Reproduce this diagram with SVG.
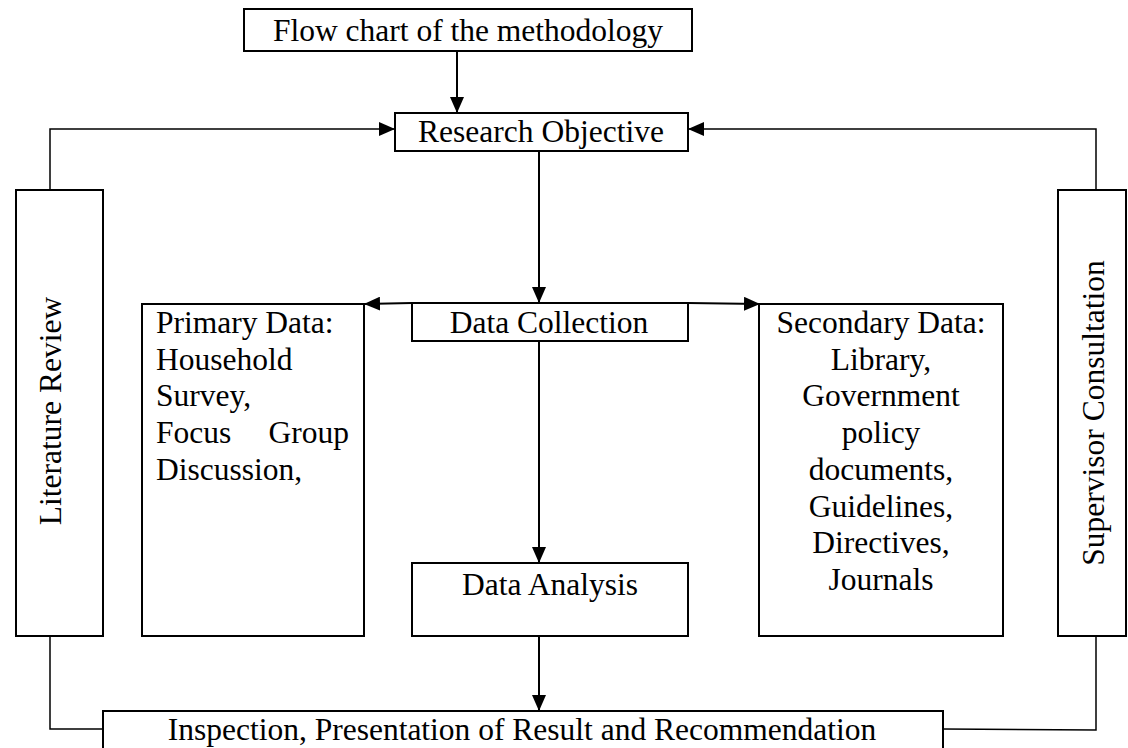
<svg xmlns="http://www.w3.org/2000/svg" width="1128" height="748" viewBox="0 0 1128 748">
<style>
.box{fill:#fff;stroke:#000;stroke-width:2}
.t{font-family:"Liberation Serif","Times New Roman",serif;font-size:31.5px;fill:#000}
.c{text-anchor:middle}
.ln{fill:none;stroke:#000;stroke-width:2}
.thin{fill:none;stroke:#000;stroke-width:1.5}
</style>
<defs>
<marker id="ah" markerUnits="userSpaceOnUse" markerWidth="16" markerHeight="14" viewBox="0 0 16 14" refX="16" refY="7" orient="auto">
<path d="M0,0 L16,7 L0,14 Z" fill="#000"/>
</marker>
</defs>
<rect width="1128" height="748" fill="#fff"/>
<g id="connectors">
<line class="ln" x1="457" y1="51" x2="457" y2="113" marker-end="url(#ah)"/>
<polyline class="thin" points="50,190 50,129 395,129" marker-end="url(#ah)"/>
<polyline class="thin" points="1096,190 1096,129 688,129" marker-end="url(#ah)"/>
<line class="ln" x1="539" y1="151" x2="539" y2="303" marker-end="url(#ah)"/>
<line class="ln" x1="412" y1="303" x2="364" y2="304" marker-end="url(#ah)"/>
<line class="ln" x1="688" y1="303" x2="760" y2="304" marker-end="url(#ah)"/>
<line class="ln" x1="539" y1="341" x2="539" y2="563" marker-end="url(#ah)"/>
<line class="ln" x1="539" y1="636" x2="539" y2="711" marker-end="url(#ah)"/>
<polyline class="thin" points="50,636 50,729 103,729"/>
<polyline class="thin" points="1096,636 1096,730 943,729"/>
</g>
<g id="flow-chart">
<rect class="box" x="244" y="9" width="448" height="42"/>
<text class="t c" x="468" y="41">Flow chart of the methodology</text>
</g>
<g id="research-objective">
<rect class="box" x="395" y="113" width="293" height="38"/>
<text class="t c" x="541" y="142">Research Objective</text>
</g>
<g id="literature-review">
<rect class="box" x="16" y="190" width="87" height="446"/>
<text class="t c" transform="translate(61,411) rotate(-90)" x="0" y="0">Literature Review</text>
</g>
<g id="supervisor-consultation">
<rect class="box" x="1058" y="190" width="68" height="446"/>
<text class="t c" transform="translate(1104,413) rotate(-90)" x="0" y="0">Supervisor Consultation</text>
</g>
<g id="primary-data">
<rect class="box" x="142" y="304" width="222" height="332"/>
<text class="t" x="156" y="333">Primary Data:</text>
<text class="t" x="156" y="369.7">Household</text>
<text class="t" x="156" y="406.4">Survey,</text>
<text class="t" x="156" y="443.1">Focus</text>
<text class="t" x="349" y="443.1" text-anchor="end">Group</text>
<text class="t" x="156" y="479.8">Discussion,</text>
</g>
<g id="data-collection">
<rect class="box" x="412" y="303" width="276" height="38"/>
<text class="t c" x="549" y="333">Data Collection</text>
</g>
<g id="secondary-data">
<rect class="box" x="759" y="304" width="244" height="332"/>
<text class="t c" x="881" y="333">Secondary Data:</text>
<text class="t c" x="881" y="369.7">Library,</text>
<text class="t c" x="881" y="406.4">Government</text>
<text class="t c" x="881" y="443.1">policy</text>
<text class="t c" x="881" y="479.8">documents,</text>
<text class="t c" x="881" y="516.5">Guidelines,</text>
<text class="t c" x="881" y="553.2">Directives,</text>
<text class="t c" x="881" y="589.9">Journals</text>
</g>
<g id="data-analysis">
<rect class="box" x="412" y="563" width="276" height="73"/>
<text class="t c" x="550" y="595">Data Analysis</text>
</g>
<g id="inspection">
<rect class="box" x="103" y="711" width="840" height="50"/>
<text class="t c" x="522" y="740">Inspection, Presentation of Result and Recommendation</text>
</g>
</svg>
